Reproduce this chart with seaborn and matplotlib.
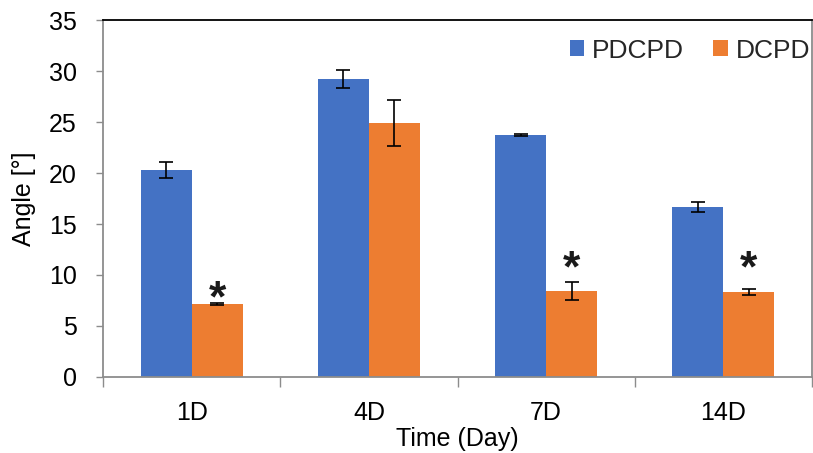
import matplotlib
matplotlib.use("Agg")
import matplotlib.pyplot as plt
import seaborn as sns
import pandas as pd

# data
days = ["1D", "4D", "7D", "14D"]
groups = ["PDCPD", "DCPD"]
pdcpd_mean = [20.3, 29.2, 23.7, 16.7]
pdcpd_err = [0.8, 0.9, 0.1, 0.5]
dcpd_mean = [7.15, 24.9, 8.4, 8.3]
dcpd_err = [0.1, 2.3, 0.9, 0.3]
# significance marks on DCPD bars (y of the asterisk, None = no mark)
star_y = [8.3, None, 11.2, 11.2]

colors = {"PDCPD": "#4472C4", "DCPD": "#ED7D31"}

df = pd.DataFrame({
    "day": days * 2,
    "group": ["PDCPD"] * 4 + ["DCPD"] * 4,
    "angle": pdcpd_mean + dcpd_mean,
})
errs = {"PDCPD": pdcpd_err, "DCPD": dcpd_err}
means = {"PDCPD": pdcpd_mean, "DCPD": dcpd_mean}

sns.set_theme(style="white")
plt.rcParams["font.family"] = ["Liberation Sans", "DejaVu Sans"]
fs = 18

fig = plt.figure(figsize=(8.13, 4.53), dpi=100)
ax = fig.add_axes([0.1267, 0.1678, 0.8721, 0.788])

sns.barplot(data=df, x="day", y="angle", hue="group", order=days,
            hue_order=groups, palette=colors, width=0.575, errorbar=None,
            saturation=1, ax=ax, linewidth=0)

# error bars on top of the drawn bars
for cont, g in zip(ax.containers, groups):
    xs = [p.get_x() + p.get_width() / 2 for p in cont.patches]
    ax.errorbar(xs, means[g], yerr=errs[g], fmt="none", ecolor="black",
                elinewidth=1.2, capsize=5, capthick=1.2, zorder=5)
    if g == "DCPD":
        for x, s in zip(xs, star_y):
            if s is not None:
                # glyph sits high in its box, shift it down a bit
                ax.annotate("*", (x, s), xytext=(0, -5.5),
                            textcoords="offset points", ha="center",
                            va="center", fontsize=32, fontweight="bold",
                            color="#1a1a1a")

ax.set_ylim(0, 35)
ax.set_xlim(-0.5, 3.5)
ax.set_yticks(range(0, 36, 5))
ax.set_xticks(range(len(days)))
ax.set_xticklabels(days)
ax.set_xticks([-0.5, 0.5, 1.5, 2.5, 3.5], minor=True)
ax.tick_params(axis="x", which="major", length=0, labelsize=fs, pad=17,
               labelcolor="black")
ax.tick_params(axis="x", which="minor", length=7, width=1, color="#8c8c8c",
               direction="out", bottom=True)
ax.tick_params(axis="y", length=5, width=1, color="#8c8c8c", direction="out",
               left=True, labelsize=fs, labelcolor="black", pad=14)

ax.set_xlabel("Time (Day)", fontsize=fs, color="black", labelpad=2)
ax.set_ylabel("Angle [°]", fontsize=fs, color="black", labelpad=9)

for side in ["left", "bottom", "right"]:
    ax.spines[side].set_color("#8c8c8c")
    ax.spines[side].set_linewidth(1.3)
ax.spines["top"].set_color("black")
ax.spines["top"].set_linewidth(1.3)

ax.legend(loc="upper right", ncol=2, frameon=False, fontsize=19,
          handlelength=0.55, handleheight=0.55, handletextpad=0.3,
          columnspacing=1.1, bbox_to_anchor=(1.016, 0.985), borderaxespad=0.1)

fig.savefig("out.png", dpi=100)
